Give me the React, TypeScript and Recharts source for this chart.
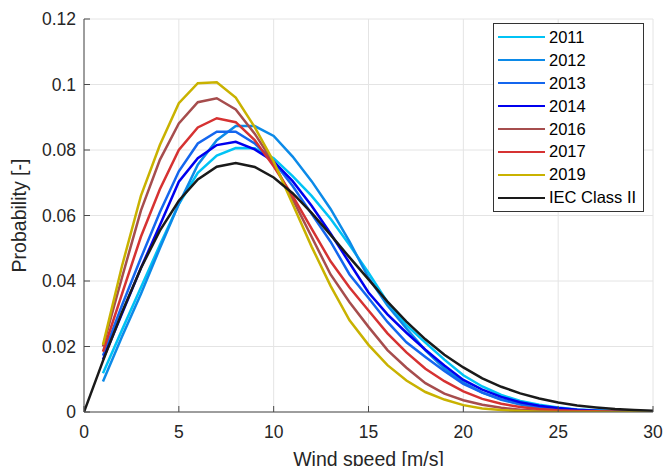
import { CartesianGrid, Legend, Line, LineChart, XAxis, YAxis } from "recharts";

const windSpeed = [0, 1, 2, 3, 4, 5, 6, 7, 8, 9, 10, 11, 12, 13, 14, 15, 16, 17, 18, 19, 20, 21, 22, 23, 24, 25, 26, 27, 28, 29, 30];

const y2011 = [null, 0.0118, 0.025, 0.038, 0.051, 0.0635, 0.073, 0.0783, 0.0806, 0.0805, 0.0775, 0.072, 0.066, 0.059, 0.051, 0.0425, 0.0335, 0.0265, 0.0212, 0.016, 0.0112, 0.0078, 0.0052, 0.0034, 0.0022, 0.0014, 0.0008, 0.0005, 0.0003, 0.0002, 0.0001];
const y2012 = [null, 0.0093, 0.023, 0.036, 0.05, 0.0635, 0.0755, 0.083, 0.0873, 0.0873, 0.0843, 0.078, 0.0705, 0.062, 0.052, 0.041, 0.0325, 0.0255, 0.0188, 0.0133, 0.009, 0.0059, 0.0037, 0.0023, 0.0013, 0.0007, 0.0004, 0.0002, 0.0001, 0, 0];
const y2013 = [null, 0.0172, 0.0325, 0.047, 0.061, 0.0735, 0.082, 0.0856, 0.0856, 0.082, 0.0765, 0.069, 0.0605, 0.052, 0.042, 0.0348, 0.0275, 0.0213, 0.0168, 0.0125, 0.0086, 0.0059, 0.0039, 0.0025, 0.0016, 0.001, 0.0006, 0.0003, 0.0002, 0.0001, 0.0001];
const y2014 = [null, 0.016, 0.03, 0.044, 0.057, 0.0703, 0.0775, 0.0815, 0.0825, 0.0802, 0.0765, 0.0705, 0.063, 0.0545, 0.0455, 0.0365, 0.0298, 0.0242, 0.019, 0.0142, 0.0098, 0.0068, 0.0046, 0.003, 0.0019, 0.0012, 0.0007, 0.0004, 0.0002, 0.0001, 0.0001];
const y2016 = [null, 0.02, 0.041, 0.0615, 0.077, 0.0881, 0.0946, 0.0958, 0.0924, 0.085, 0.076, 0.065, 0.0535, 0.042, 0.0335, 0.026, 0.0189, 0.0135, 0.0088, 0.0056, 0.0036, 0.0022, 0.0013, 0.0007, 0.0004, 0.0002, 0.0001, 0, 0, 0, 0];
const y2017 = [null, 0.0184, 0.036, 0.0535, 0.068, 0.08, 0.0869, 0.0897, 0.0885, 0.083, 0.075, 0.066, 0.056, 0.046, 0.038, 0.031, 0.024, 0.0182, 0.0132, 0.0094, 0.0063, 0.004, 0.0025, 0.0015, 0.0009, 0.0005, 0.0003, 0.0002, 0.0001, 0, 0];
const y2019 = [null, 0.0205, 0.0445, 0.066, 0.0815, 0.0943, 0.1004, 0.1007, 0.096, 0.087, 0.0765, 0.0635, 0.0505, 0.0385, 0.028, 0.0205, 0.0143, 0.0096, 0.0061, 0.0038, 0.0021, 0.0011, 0.0006, 0.0003, 0.0001, 0, 0, 0, 0, 0, 0];
const iecClass2 = [0, 0.0156, 0.0304, 0.0439, 0.0554, 0.0645, 0.071, 0.0749, 0.076, 0.0748, 0.0716, 0.0668, 0.0608, 0.0541, 0.0472, 0.0405, 0.0337, 0.0276, 0.0222, 0.0175, 0.0136, 0.0103, 0.0077, 0.0057, 0.0041, 0.0029, 0.002, 0.0014, 0.0009, 0.0006, 0.0004];

const xTicks = [0, 5, 10, 15, 20, 25, 30];
const yTicks = [0, 0.02, 0.04, 0.06, 0.08, 0.1, 0.12];

const series = [
  { key: "s2011", name: "2011", color: "#00C3F5", values: y2011 },
  { key: "s2012", name: "2012", color: "#0C8AE8", values: y2012 },
  { key: "s2013", name: "2013", color: "#1466EE", values: y2013 },
  { key: "s2014", name: "2014", color: "#0000EE", values: y2014 },
  { key: "s2016", name: "2016", color: "#A64D4D", values: y2016 },
  { key: "s2017", name: "2017", color: "#D63232", values: y2017 },
  { key: "s2019", name: "2019", color: "#C9B200", values: y2019 },
  { key: "iec", name: "IEC Class II", color: "#1A1A1A", values: iecClass2 },
];

const rows = windSpeed.map((v, i) => {
  const row: Record<string, number | null> = { v };
  series.forEach((s) => {
    row[s.key] = s.values[i];
  });
  return row;
});

const axisColor = "#4a4a4a";
const textColor = "#262626";
const fontFamily = "'Liberation Sans', Arial, Helvetica, sans-serif";

function LegendBox() {
  return (
    <div
      style={{
        boxSizing: "border-box",
        width: 151,
        height: 189,
        border: "1px solid #333",
        background: "#fff",
        padding: "2px 4px",
        fontSize: 16.5,
        color: "#000",
      }}
    >
      {series.map((s) => (
        <div key={s.key} style={{ display: "flex", alignItems: "center", height: 22.9 }}>
          <span style={{ width: 47, height: 0, borderTop: `2.5px solid ${s.color}`, marginRight: 4 }} />
          <span>{s.name}</span>
        </div>
      ))}
    </div>
  );
}

export default function App() {
  return (
    <div style={{ position: "absolute", left: 0, top: 0, width: 663, height: 466, background: "#fff", fontFamily }}>
      <LineChart width={663} height={466} data={rows} margin={{ top: 19, right: 10, bottom: 0, left: 0 }}>
        <CartesianGrid stroke="#e4e4e4" />
        <XAxis
          dataKey="v"
          type="number"
          domain={[0, 30]}
          ticks={xTicks}
          allowDataOverflow
          height={54}
          tickSize={-6}
          tickMargin={20}
          stroke={axisColor}
          tick={{ fill: textColor, fontSize: 17.5 }}
          label={{ value: "Wind speed [m/s]", position: "insideBottom", offset: 0, fill: textColor, fontSize: 19.5 }}
        />
        <XAxis
          xAxisId="top"
          orientation="top"
          dataKey="v"
          type="number"
          domain={[0, 30]}
          ticks={xTicks}
          allowDataOverflow
          height={0}
          tickSize={-6}
          stroke={axisColor}
          tickFormatter={() => ""}
        />
        <YAxis
          type="number"
          domain={[0, 0.12]}
          ticks={yTicks}
          allowDataOverflow
          width={84}
          tickSize={-6}
          tickMargin={14}
          stroke={axisColor}
          tick={{ fill: textColor, fontSize: 17.5 }}
          tickFormatter={(v: number) => String(Number(v.toFixed(2)))}
          label={{
            value: "Probability [-]",
            angle: -90,
            position: "insideLeft",
            offset: 19,
            fill: textColor,
            fontSize: 19.5,
            style: { textAnchor: "middle" },
          }}
        />
        <YAxis
          yAxisId="right"
          orientation="right"
          type="number"
          domain={[0, 0.12]}
          ticks={yTicks}
          allowDataOverflow
          width={0}
          tickSize={-6}
          stroke={axisColor}
          tickFormatter={() => ""}
        />
        <Legend
          layout="vertical"
          align="center"
          verticalAlign="middle"
          wrapperStyle={{ left: 493, top: 23, width: 151 }}
          content={<LegendBox />}
        />
        {series.map((s) => (
          <Line
            key={s.key}
            type="linear"
            dataKey={s.key}
            name={s.name}
            stroke={s.color}
            strokeWidth={2.5}
            dot={false}
            activeDot={false}
            isAnimationActive={false}
          />
        ))}
      </LineChart>
    </div>
  );
}
